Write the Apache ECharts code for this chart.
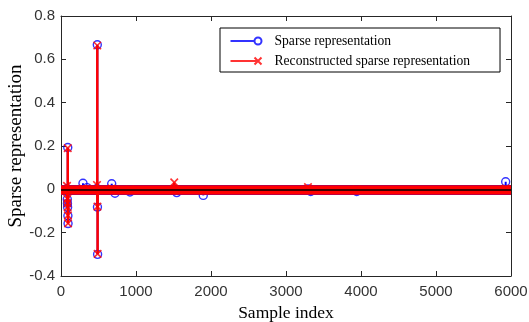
<!DOCTYPE html>
<html>
<head>
<meta charset="utf-8">
<script src="https://cdn.jsdelivr.net/npm/echarts@6/dist/echarts.min.js"></script>
<style>
  html, body { margin: 0; padding: 0; background: #fff; }
  #chart { width: 529px; height: 322px; }
</style>
</head>
<body>
<div id="chart"></div>
<script>
// Sparse vector: only the non-negligible entries are listed, the rest are zero.
const sampleIndex = [80, 84, 86, 88, 90, 92, 94, 293, 347, 480, 484, 486, 488, 676, 720, 920, 1510, 1543, 1897, 3293, 3330, 3943, 5929];
const sparseValue = [0.003, -0.046, -0.065, -0.083, 0.193, -0.122, -0.158, 0.028, 0.008, 0.004, 0.667, -0.082, -0.300, 0.026, -0.018, -0.012, 0.002, -0.015, -0.028, 0.002, -0.010, -0.010, 0.035];
const reconValue = [0.016, -0.044, -0.064, -0.082, 0.190, -0.120, -0.157, 0.004, 0.002, 0.020, 0.664, -0.080, -0.298, 0.003, -0.002, -0.001, 0.032, -0.002, -0.003, 0.010, -0.001, -0.001, 0.004];
const xTicks = { min: 0, max: 6000, interval: 1000 };
const yTicks = { min: -0.4, max: 0.8, interval: 0.2 };

const BLUE = "#0000ff";
const RED = "#ff0000";
const AXIS = "#262626";

const sparsePts = sampleIndex.map((x, i) => [x, sparseValue[i]]);
const reconPts = sampleIndex.map((x, i) => [x, reconValue[i]]);

// MATLAB-like legend glyphs: a short line ending in the marker
const circleIcon = "path://M0,5L24,5M24,5A3.5,3.5,0,1,1,31,5A3.5,3.5,0,1,1,24,5";
const crossIcon = "path://M0,5L26,5M24,1.5L31,8.5M31,1.5L24,8.5";

function stems(color, width) {
  return (params, api) => {
    const x = api.value(0);
    const p0 = api.coord([x, 0]);
    const p1 = api.coord([x, api.value(1)]);
    return {
      type: "line",
      shape: { x1: p0[0], y1: p0[1], x2: p1[0], y2: p1[1] },
      style: { stroke: color, lineWidth: width },
    };
  };
}

// the ~6000 zero entries pile up into a thick band along y = 0
function band(color, width, z) {
  return {
    silent: true,
    symbol: ["none", "none"],
    z: z,
    label: { show: false },
    lineStyle: { color: color, width: width, type: "solid" },
    emphasis: { disabled: true },
    data: [{ yAxis: 0 }],
  };
}

const tickLabel = { color: "#333", fontFamily: "Liberation Sans", fontSize: 15 };
const axisLine = { show: true, onZero: false, lineStyle: { color: AXIS, width: 1 } };
const tickIn = { show: true, inside: true, length: 5, lineStyle: { color: AXIS } };

const chart = echarts.init(document.getElementById("chart"));
chart.setOption({
  animation: false,
  backgroundColor: "#fff",
  grid: { left: 61, right: 18, top: 16, bottom: 46, containLabel: false, outerBoundsMode: "none" },
  legend: {
    orient: "vertical",
    left: 220,
    top: 28,
    padding: [6, 30, 4, 8],
    itemGap: 6,
    itemWidth: 31,
    itemHeight: 7,
    backgroundColor: "#fff",
    borderColor: "#000",
    borderWidth: 1,
    borderRadius: 0,
    selectedMode: false,
    textStyle: { color: "#000", fontFamily: "Liberation Serif", fontSize: 13.6, lineHeight: 14, padding: [0, 0, 0, 8] },
    data: [
      { name: "Sparse representation", icon: circleIcon, itemStyle: { color: "none", borderColor: BLUE, borderWidth: 2 } },
      { name: "Reconstructed sparse representation", icon: crossIcon, itemStyle: { color: "none", borderColor: RED, borderWidth: 2 } },
    ],
  },
  xAxis: [
    {
      type: "value",
      min: xTicks.min, max: xTicks.max, interval: xTicks.interval,
      name: "Sample index", nameLocation: "middle", nameGap: 28,
      nameTextStyle: { color: "#000", fontFamily: "Liberation Serif", fontSize: 17.5 },
      axisLine: axisLine, axisTick: tickIn,
      axisLabel: Object.assign({ margin: 8, formatter: (v) => String(v) }, tickLabel),
      splitLine: { show: false },
    },
    {
      type: "value", position: "top",
      min: xTicks.min, max: xTicks.max, interval: xTicks.interval,
      axisLine: axisLine, axisTick: tickIn, axisLabel: { show: false }, splitLine: { show: false },
    },
  ],
  yAxis: [
    {
      type: "value",
      min: yTicks.min, max: yTicks.max, interval: yTicks.interval,
      name: "Sparse representation", nameLocation: "middle", nameGap: 35, nameMoveOverlap: false,
      nameTextStyle: { color: "#000", fontFamily: "Liberation Serif", fontSize: 19 },
      axisLine: axisLine, axisTick: tickIn,
      axisLabel: Object.assign({ margin: 6, formatter: (v) => String(Math.round(v * 10) / 10) }, tickLabel),
      splitLine: { show: false },
    },
    {
      type: "value", position: "right",
      min: yTicks.min, max: yTicks.max, interval: yTicks.interval,
      axisLine: axisLine, axisTick: tickIn, axisLabel: { show: false }, splitLine: { show: false },
    },
  ],
  series: [
    {
      name: "sparse stems", type: "custom", z: 2, silent: true,
      renderItem: stems(BLUE, 2), data: sparsePts,
    },
    {
      name: "Sparse representation", type: "scatter", z: 3, silent: true,
      symbol: "circle", symbolSize: 8,
      itemStyle: { color: "none", borderColor: BLUE, borderWidth: 1.4 },
      data: sparsePts,
      markLine: band(BLUE, 10, 4),
    },
    {
      name: "recon stems", type: "custom", z: 5, silent: true,
      renderItem: stems(RED, 2.5), data: reconPts,
    },
    {
      name: "Reconstructed sparse representation", type: "scatter", z: 7, silent: true,
      symbol: "path://M0,0L10,10M10,0L0,10", symbolSize: 7.5,
      itemStyle: { color: "none", borderColor: RED, borderWidth: 1.6 },
      data: reconPts,
      markLine: band(RED, 9.5, 6),
    },
    {
      name: "baseline", type: "line", z: 8, silent: true, data: [],
      markLine: band("#000", 1.5, 8),
    },
  ],
});
</script>
</body>
</html>
